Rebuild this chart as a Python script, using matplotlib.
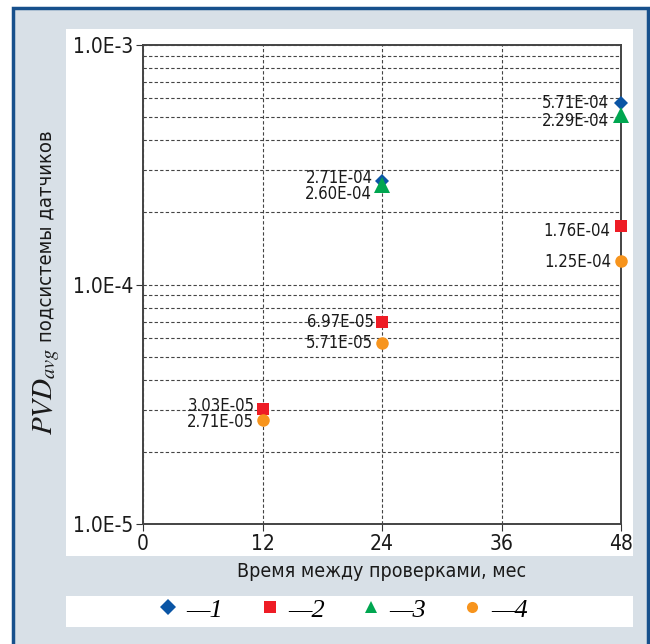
import matplotlib
matplotlib.use("Agg")
import matplotlib.pyplot as plt
from matplotlib.patches import Rectangle
from matplotlib.ticker import FixedLocator, LogLocator, NullFormatter

plt.rcParams['font.family'] = ['DejaVu Sans']
plt.rcParams['font.stretch'] = 'condensed'
plt.rcParams['mathtext.fontset'] = 'stix'

# data
months = [12, 24, 48]
s1 = [None, 2.71e-4, 5.71e-4]
s2 = [3.03e-5, 6.97e-5, 1.76e-4]
s3 = [None, 2.60e-4, 5.10e-4]
s4 = [2.71e-5, 5.71e-5, 1.25e-4]
lab1 = [None, "2.71E-04", "5.71E-04"]
lab2 = ["3.03E-05", "6.97E-05", "1.76E-04"]
lab3 = [None, "2.60E-04", "2.29E-04"]
lab4 = ["2.71E-05", "5.71E-05", "1.25E-04"]
xticks = [0, 12, 24, 36, 48]
yticks = [1e-5, 1e-4, 1e-3]
ylabels = ["1.0E-5", "1.0E-4", "1.0E-3"]

W, H = 650, 644
fig = plt.figure(figsize=(W / 100, H / 100), dpi=100)
fig.patch.set_facecolor("white")

# background frame
fig.patches.append(Rectangle((0.0195, -0.05), 0.977, 1.037, transform=fig.transFigure,
                             facecolor="#d8e0e7", edgecolor="#17508c", lw=2.5, zorder=-3))
fig.patches.append(Rectangle((0.1015, 0.1366), 0.8723, 0.8184, transform=fig.transFigure,
                             facecolor="white", edgecolor="none", zorder=-2))
fig.patches.append(Rectangle((0.1015, 0.0264), 0.8723, 0.0481, transform=fig.transFigure,
                             facecolor="white", edgecolor="none", zorder=-2))

ax = fig.add_axes([0.22, 0.1863, 0.7354, 0.7438])
ax.set_facecolor("white")
ax.set_yscale("log")
ax.set_xlim(0, 48)
ax.set_ylim(1e-5, 1e-3)

ax.yaxis.set_major_locator(FixedLocator(yticks))
ax.set_yticklabels(ylabels)
ax.yaxis.set_minor_locator(LogLocator(base=10, subs=range(2, 10)))
ax.yaxis.set_minor_formatter(NullFormatter())
ax.set_xticks(xticks)
ax.tick_params(axis="both", which="major", labelsize=15, length=5, width=0.8, color="#333333",
               labelcolor="#1a1a1a")
ax.tick_params(axis="y", which="minor", length=0)
ax.tick_params(axis="x", pad=2)
ax.tick_params(axis="y", pad=2)

ax.grid(True, which="both", axis="y", linestyle=(0, (3, 2)), color="#444444", lw=0.8)
ax.grid(True, which="major", axis="x", linestyle=(0, (3, 2)), color="#444444", lw=0.8)
for sp in ax.spines.values():
    sp.set_color("#444444")
    sp.set_linewidth(1.4)

series = [
    (s1, lab1, "D", "#0a55a5", 7, [(-9, 3), (-12, 0)]),
    (s2, lab2, "s", "#ee1c25", 8, [(-8, 3), (-8, 0), (-11, -5)]),
    (s3, lab3, "^", "#00a650", 11, [(-10, -9), (-12, -6)]),
    (s4, lab4, "o", "#f7941d", 9, [(-9, -2), (-9, 0), (-10, -1)]),
]
handles = []
for vals, labs, mk, col, ms, offs in series:
    xs = [m for m, v in zip(months, vals) if v is not None]
    ys = [v for v in vals if v is not None]
    ls = [l for l in labs if l is not None]
    h, = ax.plot(xs, ys, linestyle="none", marker=mk, color=col, ms=ms,
                 markeredgewidth=0, clip_on=False, zorder=5)
    handles.append(h)
    for x, y, l, (dx, dy) in zip(xs, ys, ls, offs):
        ax.annotate(l, (x, y), xytext=(dx, dy), textcoords="offset pixels",
                    ha="right", va="center", fontsize=12, color="#1a1a1a", zorder=6)

ax.set_xlabel("Время между проверками, мес", fontsize=14, labelpad=6, color="#1a1a1a")

# y label: big italic PVD_avg followed by the plain text
renderer = fig.canvas.get_renderer()
t1 = fig.text(52 / W, 1 - 435 / H, r"$PVD_{avg}$", rotation=90, rotation_mode="anchor",
              ha="left", va="baseline", fontsize=21, color="#1a1a1a")
bb = t1.get_window_extent(renderer)
fig.text(51 / W, (bb.y1 + 6) / H, "подсистемы датчиков", rotation=90, rotation_mode="anchor",
         ha="left", va="baseline", fontsize=14.5, color="#1a1a1a")

leg = fig.legend(handles, ["—1", "—2", "—3", "—4"], loc="center", bbox_to_anchor=(0.527, 0.053),
                 ncol=4, frameon=False, handlelength=0.8, handletextpad=0.3, columnspacing=1.35,
                 prop={"family": "Liberation Serif", "style": "italic", "size": 19})
for h in leg.legend_handles:
    h.set_markersize(8)

fig.savefig("out.png", dpi=100)
